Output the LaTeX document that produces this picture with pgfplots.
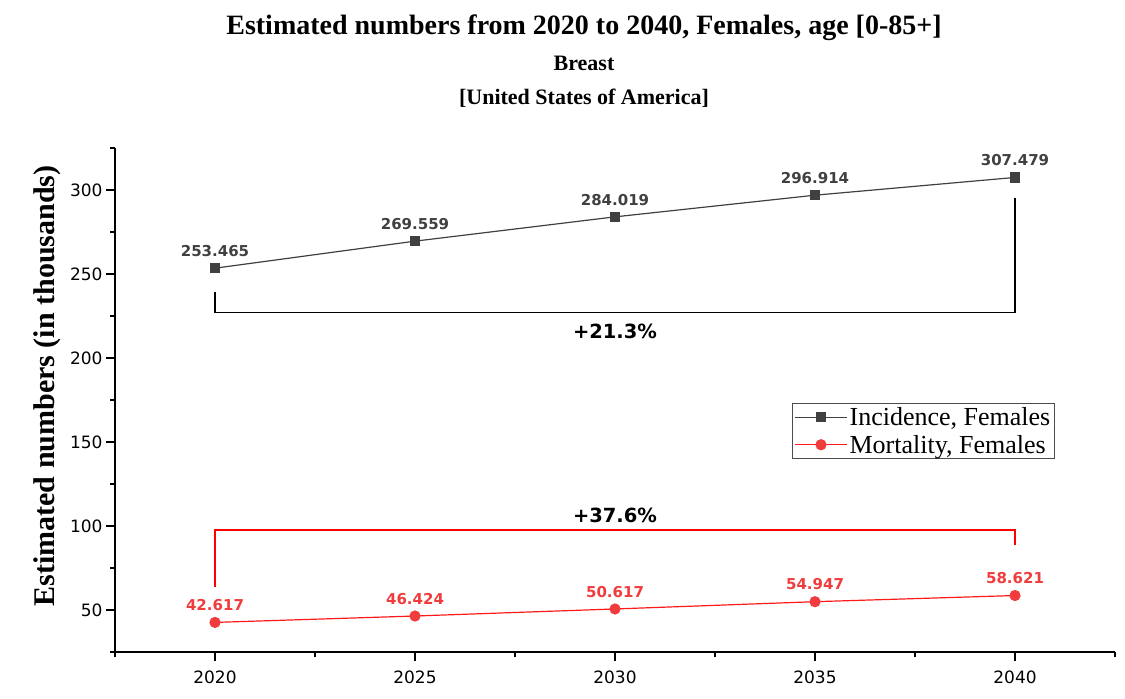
\documentclass[border=0pt]{standalone}
\usepackage{fontspec}
\setmainfont{Liberation Serif}
\newfontfamily\sansf{DejaVu Sans}
\usepackage{pgfplots}
\pgfplotsset{compat=1.18}

\definecolor{incgray}{HTML}{404040}
\definecolor{morred}{HTML}{F03C3C}
\definecolor{redline}{HTML}{FF1A1A}

\begin{document}
\begin{tikzpicture}[x=1pt,y=1pt]
\path[use as bounding box] (0,0) rectangle (1125,-699);

\node[font=\fontsize{28}{28}\selectfont\bfseries] at (584,-28) {Estimated numbers from 2020 to 2040, Females, age [0-85+]};
\node[font=\fontsize{22}{22}\selectfont\bfseries] at (584,-63) {Breast};
\node[font=\fontsize{22}{22}\selectfont\bfseries] at (584,-98) {[United States of America]};
\node[font=\fontsize{30}{30}\selectfont\bfseries, rotate=90] at (47,-386) {Estimated numbers (in thousands)};

\begin{axis}[
  at={(115pt,-652pt)}, anchor=south west,
  scale only axis, width=1000pt, height=504pt,
  xmin=2017.5, xmax=2042.5, ymin=25, ymax=325,
  xtick={2020,2025,2030,2035,2040},
  minor xtick={2017.5,2022.5,2027.5,2032.5,2037.5,2042.5},
  ytick={50,100,150,200,250,300},
  minor ytick={25,75,125,175,225,275,325},
  axis lines*=left,
  axis line style={line width=1.5pt},
  tick style={black, line width=1.2pt},
  tick align=outside,
  major tick length=9pt, minor tick length=5pt,
  /pgf/number format/1000 sep={},
  /pgf/number format/assume math mode=true,
  ticklabel style={font=\sansf\fontsize{17}{17}\selectfont},
  xticklabel style={yshift=-6pt},
  legend style={at={(0.677,0.494)}, anchor=north west,
    draw=gray!60!black, line width=0.8pt,
    font=\fontsize{26}{30}\selectfont, inner sep=2pt, row sep=4pt},
  legend cell align=left,
  legend image code/.code={\draw[mark repeat=2,mark phase=2] plot coordinates {(0pt,0pt) (26pt,0pt) (52pt,0pt)};},
  point meta=explicit symbolic,
  nodes near coords,
  clip=false,
]
\addplot[incgray, line width=1.2pt, mark=square*, mark size=4.5pt,
  mark options={fill=incgray, draw=incgray},
  every node near coord/.append style={font=\sansf\bfseries\fontsize{15}{15}\selectfont, text=incgray, anchor=south, inner sep=0pt, yshift=11pt}]
  coordinates {
    (2020,253.465) [253.465]
    (2025,269.559) [269.559]
    (2030,284.019) [284.019]
    (2035,296.914) [296.914]
    (2040,307.479) [307.479]
  };
\addlegendentry{Incidence, Females}
\addplot[redline, line width=1.2pt, mark=*, mark size=5pt,
  mark options={fill=morred, draw=morred},
  every node near coord/.append style={font=\sansf\bfseries\fontsize{15}{15}\selectfont, text=morred, anchor=south, inner sep=0pt, yshift=11pt}]
  coordinates {
    (2020,42.617) [42.617]
    (2025,46.424) [46.424]
    (2030,50.617) [50.617]
    (2035,54.947) [54.947]
    (2040,58.621) [58.621]
  };
\addlegendentry{Mortality, Females}

\draw[black, line width=1.3pt] (axis cs:2020,239.5) |- (axis cs:2040,227) -- (axis cs:2040,295.2);
\node[font=\sansf\bfseries\fontsize{19.5}{19.5}\selectfont] at (axis cs:2030,215.7) {+21.3\%};
\draw[red, line width=1.3pt] (axis cs:2020,63.9) |- (axis cs:2040,97.6) -- (axis cs:2040,88.7);
\node[font=\sansf\bfseries\fontsize{19.5}{19.5}\selectfont] at (axis cs:2030,106.5) {+37.6\%};
\end{axis}
\end{tikzpicture}
\end{document}
